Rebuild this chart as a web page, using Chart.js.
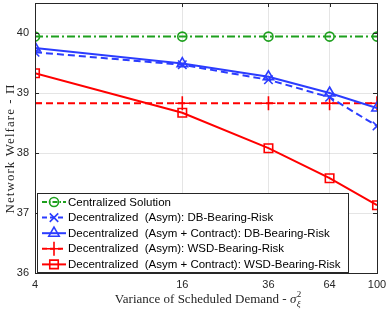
<!DOCTYPE html>
<html>
<head>
<meta charset="utf-8">
<script src="https://cdn.jsdelivr.net/npm/chart.js@4/dist/chart.umd.min.js"></script>
<style>
  html, body { margin: 0; padding: 0; background: #fff; }
  #wrap { width: 388px; height: 313px; }
</style>
</head>
<body>
<div id="wrap"><canvas id="chart" width="388" height="313"></canvas></div>
<script>
// --- Data ---
const variances = [4, 16, 36, 64, 100];
const xTicks = [4, 16, 36, 64, 100];
const yTicks = [36, 37, 38, 39, 40];

const centralized = [39.94, 39.94, 39.94, 39.94, 39.94];
const dbAsym = [39.68, 39.47, 39.22, 38.93, 38.45];
const dbAsymContract = [39.75, 39.49, 39.27, 39.0, 38.75];
const wsdAsym = [38.83, 38.83, 38.83, 38.83, 38.83];
const wsdAsymContract = [39.33, 38.67, 38.08, 37.58, 37.13];

const seriesNames = [
    'Centralized Solution',
    'Decentralized  (Asym): DB-Bearing-Risk',
    'Decentralized  (Asym + Contract): DB-Bearing-Risk',
    'Decentralized  (Asym): WSD-Bearing-Risk',
    'Decentralized  (Asym + Contract): WSD-Bearing-Risk'
];

const GREEN = '#1ea01e';
const BLUE = '#2b3cff';
const RED = '#ff0000';
const AXIS = '#262626';

const toPoints = arr => variances.map((x, i) => ({ x: x, y: arr[i] }));

function makeSet(name, values, color, dash, style, radius) {
    return {
        label: name,
        data: toPoints(values),
        borderColor: color,
        backgroundColor: color,
        borderWidth: 2,
        borderDash: dash,
        pointStyle: style,
        pointRadius: radius,
        pointHoverRadius: radius,
        pointBorderColor: color,
        pointBackgroundColor: 'rgba(0,0,0,0)',
        pointBorderWidth: 1.6,
        tension: 0,
        fill: false
    };
}

const datasets = [
    makeSet(seriesNames[0], centralized, GREEN, [8, 3, 2, 3], 'circle', 4.5),
    makeSet(seriesNames[1], dbAsym, BLUE, [7, 4], 'crossRot', 6),
    makeSet(seriesNames[2], dbAsymContract, BLUE, [], 'triangle', 6),
    makeSet(seriesNames[3], wsdAsym, RED, [7, 4], 'cross', 7),
    makeSet(seriesNames[4], wsdAsymContract, RED, [], 'rect', 6)
];

// legend line dash patterns (shorter than the plot ones)
const legendDash = [[5, 2, 1.5, 2], [5, 3], [], [5, 3], []];

// draw text stretched with letter spacing so it covers a given width
function spacedText(ctx, text, x, y, targetWidth) {
    const w = ctx.measureText(text).width;
    const extra = Math.max(0, (targetWidth - w) / text.length);
    ctx.letterSpacing = extra.toFixed(2) + 'px';
    ctx.fillText(text, x, y);
    ctx.letterSpacing = '0px';
}

// --- Frame, inward ticks, axis titles and legend ---
const matlabLook = {
    id: 'matlabLook',
    afterDraw(chart) {
        const ctx = chart.ctx;
        const a = chart.chartArea;
        const xs = chart.scales.x;
        const ys = chart.scales.y;
        ctx.save();

        // box
        ctx.strokeStyle = AXIS;
        ctx.lineWidth = 1;
        ctx.strokeRect(Math.round(a.left) + 0.5, Math.round(a.top) + 0.5,
            Math.round(a.right - a.left), Math.round(a.bottom - a.top));

        // inward tick marks
        ctx.beginPath();
        xTicks.forEach(v => {
            const px = Math.round(xs.getPixelForValue(v)) + 0.5;
            ctx.moveTo(px, a.bottom); ctx.lineTo(px, a.bottom - 4);
            ctx.moveTo(px, a.top); ctx.lineTo(px, a.top + 4);
        });
        yTicks.forEach(v => {
            const py = Math.round(ys.getPixelForValue(v)) + 0.5;
            ctx.moveTo(a.left, py); ctx.lineTo(a.left + 4, py);
            ctx.moveTo(a.right, py); ctx.lineTo(a.right - 4, py);
        });
        ctx.stroke();

        // x title with sigma_xi^2
        ctx.fillStyle = AXIS;
        ctx.textBaseline = 'alphabetic';
        const main = 'Variance of Scheduled Demand - ';
        ctx.font = '13px "Liberation Serif", serif';
        const wMain = ctx.measureText(main).width;
        ctx.font = 'italic 13px "Liberation Serif", serif';
        const wSig = ctx.measureText('σ').width;
        ctx.font = 'italic 9px "Liberation Serif", serif';
        const wSub = ctx.measureText('ξ').width;
        const total = wMain + wSig + wSub + 1;
        let tx = 208 - total / 2;
        const ty = 303;
        ctx.font = '13px "Liberation Serif", serif';
        ctx.fillText(main, tx, ty);
        tx += wMain;
        ctx.font = 'italic 13px "Liberation Serif", serif';
        ctx.fillText('σ', tx, ty);
        tx += wSig + 0.5;
        ctx.font = '9px "Liberation Serif", serif';
        ctx.fillText('2', tx, ty - 6);
        ctx.font = 'italic 9px "Liberation Serif", serif';
        ctx.fillText('ξ', tx, ty + 3.5);

        // y title
        ctx.save();
        ctx.translate(11, 148.5);
        ctx.rotate(-Math.PI / 2);
        ctx.textAlign = 'center';
        ctx.textBaseline = 'middle';
        ctx.font = '13px "Liberation Serif", serif';
        spacedText(ctx, 'Network Welfare - \u03A0', 0, 0, 130);
        ctx.restore();

        // legend box
        const lx = 37, ly = 193, lw = 311, lh = 79;
        ctx.fillStyle = '#fff';
        ctx.fillRect(lx, ly, lw, lh);
        ctx.strokeStyle = AXIS;
        ctx.lineWidth = 1;
        ctx.strokeRect(lx + 0.5, ly + 0.5, lw, lh);

        const rowH = 15.6;
        chart.data.datasets.forEach((ds, i) => {
            const cy = ly + 9 + i * rowH;
            ctx.save();
            ctx.strokeStyle = ds.borderColor;
            ctx.fillStyle = 'rgba(0,0,0,0)';
            ctx.lineWidth = ds.borderWidth;
            ctx.setLineDash(legendDash[i]);
            ctx.beginPath();
            ctx.moveTo(lx + 5, cy);
            ctx.lineTo(lx + 29, cy);
            ctx.stroke();
            ctx.setLineDash([]);
            ctx.lineWidth = ds.pointBorderWidth;
            Chart.helpers.drawPoint(ctx, {
                pointStyle: ds.pointStyle,
                radius: ds.pointRadius,
                borderWidth: ds.pointBorderWidth,
                rotation: 0
            }, lx + 17, cy);
            ctx.restore();
            ctx.fillStyle = '#000';
            ctx.font = '11.5px "Liberation Sans", Arial, sans-serif';
            ctx.textAlign = 'left';
            ctx.textBaseline = 'middle';
            ctx.fillText(ds.label, lx + 31, cy + 0.5);
        });

        ctx.restore();
    }
};

new Chart(document.getElementById('chart'), {
    type: 'line',
    data: { datasets: datasets },
    options: {
        responsive: false,
        animation: false,
        layout: { autoPadding: false, padding: { top: 3, right: 11, left: 0, bottom: 0 } },
        plugins: {
            legend: { display: false },
            tooltip: { enabled: false }
        },
        scales: {
            x: {
                type: 'logarithmic',
                min: 4,
                max: 100,
                afterBuildTicks: scale => { scale.ticks = xTicks.map(v => ({ value: v })); },
                afterFit: scale => {
                    scale.height = 40;
                    scale.paddingLeft = 0;
                    scale.paddingRight = 0;
                },
                ticks: {
                    callback: v => String(v),
                    color: AXIS,
                    font: { family: '"Liberation Sans", Arial, sans-serif', size: 11 },
                    padding: 5,
                    maxRotation: 0,
                    autoSkip: false
                },
                grid: { color: 'rgba(0,0,0,0.1)', drawTicks: false },
                border: { display: false }
            },
            y: {
                type: 'linear',
                min: 36,
                max: 40.5,
                afterBuildTicks: scale => { scale.ticks = yTicks.map(v => ({ value: v })); },
                afterFit: scale => {
                    scale.width = 35;
                    scale.paddingTop = 0;
                    scale.paddingBottom = 0;
                },
                ticks: {
                    color: AXIS,
                    font: { family: '"Liberation Sans", Arial, sans-serif', size: 11 },
                    padding: 6
                },
                grid: { color: 'rgba(0,0,0,0.1)', drawTicks: false },
                border: { display: false }
            }
        }
    },
    plugins: [matlabLook]
});
</script>
</body>
</html>
